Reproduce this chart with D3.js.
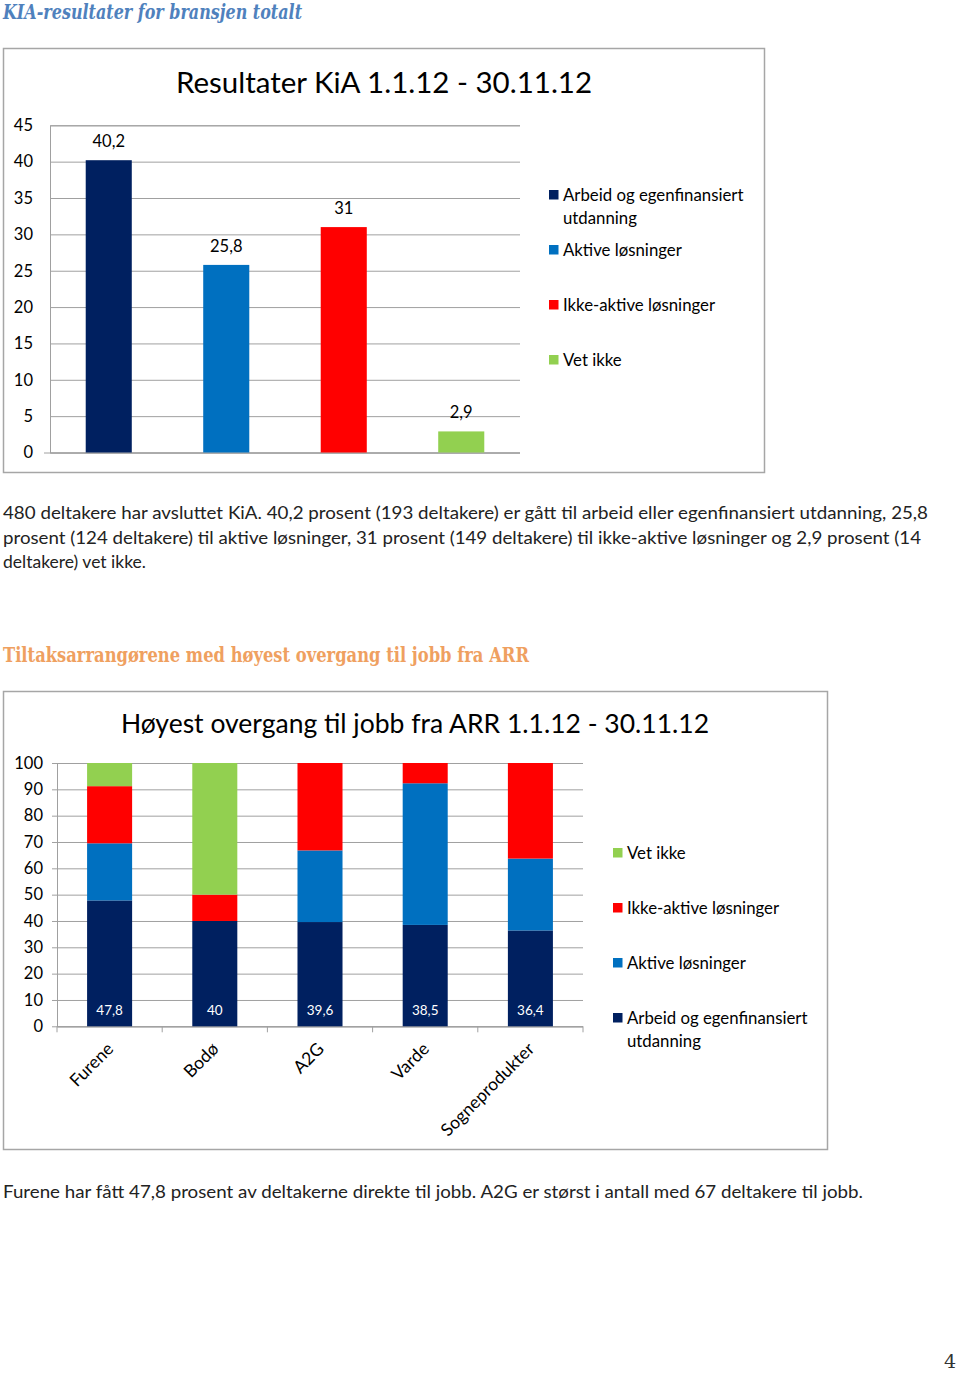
<!DOCTYPE html>
<html><head><meta charset="utf-8">
<script src="https://cdn.jsdelivr.net/npm/d3@7"></script>
<style>
html,body{margin:0;padding:0;background:#fff;}
svg{display:block;}
</style></head>
<body>
<script>
// ---------- data ----------
const chart1Title = "Resultater KiA 1.1.12 - 30.11.12";
const chart1Categories = ["Arbeid og egenfinansiert utdanning", "Aktive løsninger", "Ikke-aktive løsninger", "Vet ikke"];
const chart1Values = [40.2, 25.8, 31, 2.9];
const chart1Ticks = [0, 5, 10, 15, 20, 25, 30, 35, 40, 45];

const chart2Title = "Høyest overgang til jobb fra ARR 1.1.12 - 30.11.12";
const chart2Categories = ["Furene", "Bodø", "A2G", "Varde", "Sogneprodukter"];
const arbeidValues = [47.8, 40, 39.6, 38.5, 36.4];
const aktiveValues = [21.7, 0, 27.2, 53.8, 27.3];
const ikkeAktiveValues = [21.7, 10, 33.2, 7.7, 36.3];
const vetIkkeValues = [8.8, 50, 0, 0, 0];
const chart2Ticks = [0, 10, 20, 30, 40, 50, 60, 70, 80, 90, 100];

const seriesNames = ["Arbeid og egenfinansiert utdanning", "Aktive løsninger", "Ikke-aktive løsninger", "Vet ikke"];
const seriesColors = ["#002060", "#0070C0", "#FF0000", "#92D050"];

const heading1 = "KIA-resultater for bransjen totalt";
const heading2 = "Tiltaksarrangørene med høyest overgang til jobb fra ARR";
const para1 = [
  "480 deltakere har avsluttet KiA. 40,2 prosent (193 deltakere) er gått til arbeid eller egenfinansiert utdanning, 25,8",
  "prosent (124 deltakere) til aktive løsninger, 31 prosent (149 deltakere) til ikke-aktive løsninger og 2,9 prosent (14",
  "deltakere) vet ikke."
];
const para2 = "Furene har fått 47,8 prosent av deltakerne direkte til jobb. A2G er størst i antall med 67 deltakere til jobb.";

// ---------- drawing ----------
const W = 960, H = 1373;
const FONT = "Lato, 'Open Sans', sans-serif";
const SERIF = "'DejaVu Serif', 'Liberation Serif', serif";
const loc = d3.formatLocale({decimal: ",", thousands: " ", grouping: [3], currency: ["", ""]});
const fmt = v => loc.format("~g")(v);

const svg = d3.select("body").append("svg").attr("width", W).attr("height", H);
svg.append("rect").attr("width", W).attr("height", H).attr("fill", "#fff");

// headings
svg.append("text").attr("x", 3).attr("y", 19).attr("font-family", SERIF)
  .attr("font-style", "italic").attr("font-weight", "bold").attr("font-size", 19.5)
  .attr("fill", "#4F81BD").attr("textLength", 299).attr("lengthAdjust", "spacingAndGlyphs").text(heading1);

svg.append("text").attr("x", 3).attr("y", 662).attr("font-family", SERIF)
  .attr("font-weight", "bold").attr("font-size", 20.5)
  .attr("fill", "#EFA060").attr("textLength", 526).attr("lengthAdjust", "spacingAndGlyphs").text(heading2);

// paragraphs
para1.forEach((line, i) => {
  const t = svg.append("text").attr("x", 3).attr("y", 519 + i * 24.5).attr("font-family", FONT)
    .attr("font-size", 17.5).attr("fill", "#222").text(line);
  if (i < 2) t.attr("textLength", i === 0 ? 925 : 918).attr("lengthAdjust", "spacingAndGlyphs");
});
svg.append("text").attr("x", 3).attr("y", 1198).attr("font-family", FONT)
  .attr("font-size", 17.5).attr("fill", "#222").attr("textLength", 860).attr("lengthAdjust", "spacingAndGlyphs").text(para2);

svg.append("text").attr("x", 944).attr("y", 1368).attr("font-family", SERIF)
  .attr("font-size", 19).attr("fill", "#333").text("4");

// ---------- chart 1 ----------
const c1 = svg.append("g");
c1.append("rect").attr("x", 3.5).attr("y", 48.5).attr("width", 761).attr("height", 424)
  .attr("fill", "#fff").attr("stroke", "#A6A6A6").attr("stroke-width", 1.5);
c1.append("text").attr("x", 384).attr("y", 93).attr("text-anchor", "middle")
  .attr("font-family", FONT).attr("font-size", 29.5).attr("fill", "#000").text(chart1Title);

const x1 = d3.scaleBand().domain(chart1Categories).range([50, 520]).paddingInner(0.608).paddingOuter(0.304);
const y1 = d3.scaleLinear().domain([0, 45]).range([452.5, 125.3]);

const g1y = c1.append("g").attr("transform", "translate(50,0)")
  .call(d3.axisLeft(y1).tickValues(chart1Ticks).tickSize(-470).tickPadding(12).tickFormat(fmt));
g1y.select(".domain").attr("stroke", "#A0A0A0");
g1y.selectAll(".tick line").attr("stroke", "#A0A0A0").attr("stroke-width", 1);
g1y.selectAll(".tick text").attr("font-family", FONT).attr("font-size", 16.5).attr("fill", "#000").attr("dx", -5);
c1.append("line").attr("x1", 44).attr("x2", 520).attr("y1", y1(0) + 0.5).attr("y2", y1(0) + 0.5).attr("stroke", "#A0A0A0");

c1.selectAll("rect.bar").data(chart1Values).enter().append("rect").attr("class", "bar")
  .attr("x", (d, i) => x1(chart1Categories[i])).attr("width", x1.bandwidth())
  .attr("y", d => y1(d)).attr("height", d => y1(0) - y1(d))
  .attr("fill", (d, i) => seriesColors[i]);
c1.selectAll("text.val").data(chart1Values).enter().append("text").attr("class", "val")
  .attr("x", (d, i) => x1(chart1Categories[i]) + x1.bandwidth() / 2).attr("y", d => y1(d) - 13)
  .attr("text-anchor", "middle").attr("font-family", FONT).attr("font-size", 16.5).attr("fill", "#000")
  .text(d => fmt(d));

// legend 1
const leg1 = [
  {i: 0, lines: ["Arbeid og egenfinansiert", "utdanning"], y: 195},
  {i: 1, lines: ["Aktive løsninger"], y: 250},
  {i: 2, lines: ["Ikke-aktive løsninger"], y: 305},
  {i: 3, lines: ["Vet ikke"], y: 360}
];
leg1.forEach(it => {
  c1.append("rect").attr("x", 549).attr("y", it.y - 5).attr("width", 9.5).attr("height", 9.5).attr("fill", seriesColors[it.i]);
  it.lines.forEach((l, k) => {
    c1.append("text").attr("x", 563).attr("y", it.y + 6 + k * 23).attr("font-family", FONT)
      .attr("font-size", 16.8).attr("fill", "#000").text(l);
  });
});

// ---------- chart 2 ----------
const c2 = svg.append("g");
c2.append("rect").attr("x", 3.5).attr("y", 691.5).attr("width", 824).attr("height", 458)
  .attr("fill", "#fff").attr("stroke", "#A6A6A6").attr("stroke-width", 1.5);
c2.append("text").attr("x", 415).attr("y", 733).attr("text-anchor", "middle")
  .attr("font-family", FONT).attr("font-size", 26.5).attr("fill", "#000").text(chart2Title);

const x2 = d3.scaleBand().domain(chart2Categories).range([57, 583]).paddingInner(0.572).paddingOuter(0.286);
const y2 = d3.scaleLinear().domain([0, 100]).range([1026.3, 763]);

const g2y = c2.append("g").attr("transform", "translate(57,0)")
  .call(d3.axisLeft(y2).tickValues(chart2Ticks).tickSize(-526).tickPadding(8).tickFormat(fmt));
g2y.select(".domain").attr("stroke", "#A0A0A0");
g2y.selectAll(".tick line").attr("stroke", "#A0A0A0");
g2y.selectAll(".tick text").attr("font-family", FONT).attr("font-size", 16.5).attr("fill", "#000").attr("dx", -6);
c2.selectAll("line.ytk").data(chart2Ticks).enter().append("line").attr("class", "ytk")
  .attr("x1", 52).attr("x2", 57).attr("y1", d => y2(d) + 0.5).attr("y2", d => y2(d) + 0.5).attr("stroke", "#A0A0A0");

// x axis with ticks at band boundaries
const bounds = chart2Categories.map(c => x2(c) - x2.step() * x2.paddingInner() / 2).concat([583]);
c2.append("line").attr("x1", 57).attr("x2", 583).attr("y1", y2(0) + 0.5).attr("y2", y2(0) + 0.5).attr("stroke", "#A0A0A0");
c2.selectAll("line.xtk").data(bounds).enter().append("line").attr("class", "xtk")
  .attr("x1", d => d).attr("x2", d => d).attr("y1", y2(0)).attr("y2", y2(0) + 6).attr("stroke", "#A0A0A0");

const stackData = chart2Categories.map((c, i) => ({cat: c, s0: arbeidValues[i], s1: aktiveValues[i], s2: ikkeAktiveValues[i], s3: vetIkkeValues[i]}));
const stack = d3.stack().keys(["s0", "s1", "s2", "s3"])(stackData);
c2.selectAll("g.layer").data(stack).enter().append("g").attr("class", "layer")
  .attr("fill", (d, i) => seriesColors[i])
  .selectAll("rect").data(d => d).enter().append("rect")
  .attr("x", d => x2(d.data.cat)).attr("width", x2.bandwidth())
  .attr("y", d => y2(d[1])).attr("height", d => Math.max(0, y2(d[0]) - y2(d[1])));

c2.selectAll("text.val").data(arbeidValues).enter().append("text").attr("class", "val")
  .attr("x", (d, i) => x2(chart2Categories[i]) + x2.bandwidth() / 2).attr("y", 1015)
  .attr("text-anchor", "middle").attr("font-family", FONT).attr("font-size", 13.5).attr("fill", "#fff")
  .text(d => fmt(d));

c2.selectAll("text.xl").data(chart2Categories).enter().append("text").attr("class", "xl")
  .attr("transform", d => `translate(${x2(d) + x2.bandwidth() / 2 + 5},${1050}) rotate(-45)`)
  .attr("text-anchor", "end").attr("font-family", FONT).attr("font-size", 17.5).attr("fill", "#000")
  .text(d => d);

// legend 2
const leg2 = [
  {i: 3, lines: ["Vet ikke"], y: 853},
  {i: 2, lines: ["Ikke-aktive løsninger"], y: 908},
  {i: 1, lines: ["Aktive løsninger"], y: 963},
  {i: 0, lines: ["Arbeid og egenfinansiert", "utdanning"], y: 1018}
];
leg2.forEach(it => {
  c2.append("rect").attr("x", 613).attr("y", it.y - 5).attr("width", 9.5).attr("height", 9.5).attr("fill", seriesColors[it.i]);
  it.lines.forEach((l, k) => {
    c2.append("text").attr("x", 627).attr("y", it.y + 6 + k * 23).attr("font-family", FONT)
      .attr("font-size", 16.8).attr("fill", "#000").text(l);
  });
});
</script>
</body></html>
